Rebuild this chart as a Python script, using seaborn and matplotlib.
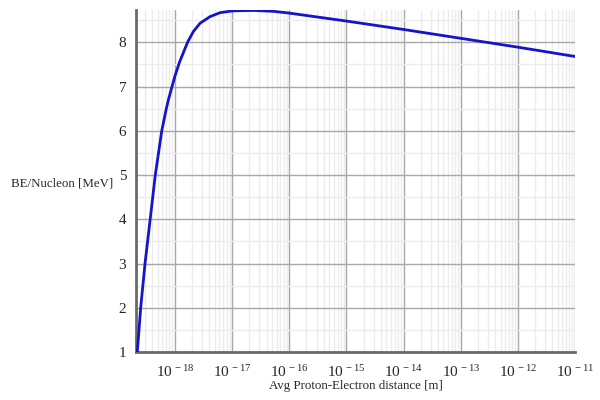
"""
Binding energy per nucleon vs. average proton-electron distance
"""
import numpy as np
import pandas as pd
import seaborn as sns
import matplotlib
matplotlib.use('Agg')
import matplotlib.pyplot as plt
from matplotlib.ticker import LogLocator, FixedLocator, FuncFormatter, NullFormatter

# ==================== data ====================
distance_m = [2.19e-19, 2.51e-19, 2.99e-19, 3.68e-19, 4.52e-19, 5.87e-19,
              7.05e-19, 7.67e-19, 8.87e-19, 1.00e-18, 1.20e-18, 1.66e-18,
              2.09e-18, 2.74e-18, 4.10e-18, 6.17e-18, 1.02e-17, 2.34e-17,
              5.25e-17, 1.00e-16, 1.00e-15, 1.00e-14, 1.00e-13, 1.00e-12,
              1.00e-11]
be_per_nucleon = [1.0, 2.0, 3.0, 4.0, 5.0, 6.0,
                  6.5, 6.7, 7.0, 7.24, 7.55, 8.0,
                  8.24, 8.43, 8.58, 8.67, 8.71, 8.72,
                  8.70, 8.66, 8.48, 8.29, 8.09, 7.89,
                  7.68]
y_ticks = [1, 2, 3, 4, 5, 6, 7, 8]
x_decades = [-18, -17, -16, -15, -14, -13, -12, -11]

df = pd.DataFrame({'d': distance_m, 'be': be_per_nucleon})

# ==================== style ====================
sns.set_style('white')
plt.rcParams['font.family'] = ['Liberation Serif', 'DejaVu Serif']
plt.rcParams['mathtext.fontset'] = 'custom'
plt.rcParams['mathtext.rm'] = 'Liberation Serif'
plt.rcParams['mathtext.it'] = 'Liberation Serif'

fig = plt.figure(figsize=(6, 4), dpi=100)
ax = fig.add_axes([0.2267, 0.12, 0.7316, 0.855])

sns.lineplot(data=df, x='d', y='be', color='#1414c8', linewidth=2, ax=ax,
             sort=False, zorder=3)

ax.set_xscale('log')
ax.set_xlim(2.08e-19, 1e-11)
ax.set_ylim(1, 8.73)

# ticks
ax.xaxis.set_major_locator(FixedLocator([10.0 ** e for e in x_decades]))
ax.xaxis.set_minor_locator(LogLocator(base=10, subs=np.arange(2, 10), numticks=30))
ax.xaxis.set_major_formatter(FuncFormatter(
    lambda v, p: r'$\mathregular{10^{\,%d}}$' % int(round(np.log10(v)))))
ax.xaxis.set_minor_formatter(NullFormatter())
ax.set_yticks(y_ticks)
ax.set_yticks([t + 0.5 for t in y_ticks if t + 0.5 < 8.73], minor=True)

ax.tick_params(axis='both', which='major', direction='out', length=5, width=1,
               color='#606060', labelsize=11, pad=2)
ax.tick_params(axis='both', which='minor', direction='out', length=3, width=1,
               color='#606060')
ax.tick_params(axis='x', which='major', labelsize=11, pad=4)

# grid
ax.grid(True, which='major', color='#a8a8a8', linewidth=1)
ax.grid(True, which='minor', color='#ececec', linewidth=1)
ax.set_axisbelow(True)

for side in ['top', 'right']:
    ax.spines[side].set_visible(False)
for side in ['left', 'bottom']:
    ax.spines[side].set_color('#6a6a6a')
    ax.spines[side].set_linewidth(2)

ax.set_xlabel('Avg Proton-Electron distance [m]', fontsize=9.3, labelpad=0)
ax.set_ylabel('BE/Nucleon [MeV]', fontsize=9.3, rotation=0, ha='right',
              va='center')
ax.yaxis.set_label_coords(-0.052, 0.494)

plt.savefig('out.png', dpi=100)
plt.close('all')
